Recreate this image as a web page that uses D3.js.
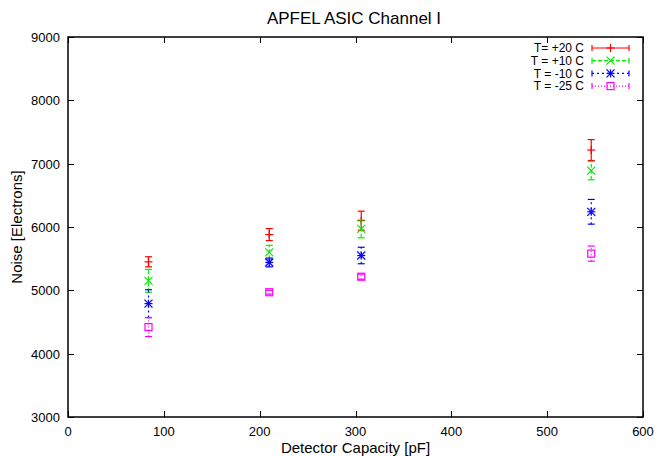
<!DOCTYPE html>
<html lang="en">
<head>
<meta charset="utf-8">
<title>APFEL ASIC Channel I</title>
<script src="https://d3js.org/d3.v7.min.js"></script>
<style>
  body{margin:0;background:#fff;font-family:"Liberation Sans",Helvetica,Arial,sans-serif;}
  svg text{fill:#000;}
</style>
</head>
<body>
<div id="chart"></div>
<script>
// data
var capacity = [84, 210, 306, 546]
var labels = ["T= +20 C", "T = +10 C", "T = -10 C", "T = -25 C"]
var noise20 = [5450, 5880, 6100, 7215]
var err20   = [80, 95, 150, 165]
var noise10 = [5150, 5600, 5970, 6890]
var err10   = [180, 110, 140, 145]
var noiseM10 = [4790, 5440, 5550, 6240]
var errM10   = [220, 70, 130, 195]
var noiseM25 = [4420, 4970, 5215, 5580]
var errM25   = [150, 30, 40, 120]
var xTicks = [0, 100, 200, 300, 400, 500, 600]
var yTicks = [3000, 4000, 5000, 6000, 7000, 8000, 9000]

var W = 657, H = 456
var m = {left: 68, right: 14, top: 37, bottom: 39}

var series = [
  {name: labels[0], y: noise20, e: err20, color: "#ff0000", dash: null, sym: "plus"},
  {name: labels[1], y: noise10, e: err10, color: "#00ee00", dash: "4,2", sym: "cross"},
  {name: labels[2], y: noiseM10, e: errM10, color: "#0000ff", dash: "2,3", sym: "star"},
  {name: labels[3], y: noiseM25, e: errM25, color: "#ff00ff", dash: "1,2", sym: "box"}
]

var svg = d3.select("#chart").append("svg").attr("width", W).attr("height", H)

var x = d3.scaleLinear().domain([0, 600]).range([m.left, W - m.right])
var y = d3.scaleLinear().domain([3000, 9000]).range([H - m.bottom, m.top])

// ticks, inward and mirrored like gnuplot
var tk = 6
var g = svg.append("g").attr("stroke", "#000").attr("stroke-width", 1)
xTicks.forEach(function(t){
  var px = Math.round(x(t)) + 0.5
  g.append("line").attr("x1", px).attr("x2", px).attr("y1", y(3000)).attr("y2", y(3000) - tk)
  g.append("line").attr("x1", px).attr("x2", px).attr("y1", y(9000)).attr("y2", y(9000) + tk)
})
yTicks.forEach(function(t){
  var py = Math.round(y(t)) + 0.5
  g.append("line").attr("x1", x(0)).attr("x2", x(0) + tk).attr("y1", py).attr("y2", py)
  g.append("line").attr("x1", x(600)).attr("x2", x(600) - tk).attr("y1", py).attr("y2", py)
})
svg.append("rect")
  .attr("x", x(0)).attr("y", y(9000))
  .attr("width", x(600) - x(0)).attr("height", y(3000) - y(9000))
  .attr("fill", "none").attr("stroke", "#000").attr("stroke-width", 1.5)

svg.selectAll(".xl").data(xTicks).enter().append("text")
  .attr("x", function(d){ return x(d) }).attr("y", y(3000) + 18.5)
  .attr("text-anchor", "middle").attr("font-size", 13).text(function(d){ return d })
svg.selectAll(".yl").data(yTicks).enter().append("text")
  .attr("x", x(0) - 8).attr("y", function(d){ return y(d) + 5 })
  .attr("text-anchor", "end").attr("font-size", 13).text(function(d){ return d })

svg.append("text").attr("x", 354).attr("y", 24).attr("text-anchor", "middle")
  .attr("font-size", 17).text("APFEL ASIC Channel I")
svg.append("text").attr("x", (x(0) + x(600)) / 2).attr("y", 452.5).attr("text-anchor", "middle")
  .attr("font-size", 15).text("Detector Capacity [pF]")
svg.append("text").attr("transform", "translate(22," + ((y(3000) + y(9000)) / 2) + ") rotate(-90)")
  .attr("text-anchor", "middle").attr("font-size", 15).text("Noise [Electrons]")

function symbol(sel, type, cx, cy, color){
  var s = 4
  var gg = sel.append("g").attr("stroke", color).attr("stroke-width", 1.2).attr("fill", "none")
  if (type == "plus" || type == "star"){
    gg.append("line").attr("x1", cx - s).attr("x2", cx + s).attr("y1", cy).attr("y2", cy)
    gg.append("line").attr("x1", cx).attr("x2", cx).attr("y1", cy - s).attr("y2", cy + s)
  }
  if (type == "cross" || type == "star"){
    gg.append("line").attr("x1", cx - s).attr("x2", cx + s).attr("y1", cy - s).attr("y2", cy + s)
    gg.append("line").attr("x1", cx - s).attr("x2", cx + s).attr("y1", cy + s).attr("y2", cy - s)
  }
  if (type == "box"){
    gg.append("rect").attr("x", cx - s + 0.5).attr("y", cy - s + 0.5).attr("width", 2 * s - 1).attr("height", 2 * s - 1)
  }
}

var cap = 3.5
series.forEach(function(s){
  var sg = svg.append("g")
  capacity.forEach(function(c, i){
    var px = x(c), lo = y(s.y[i] - s.e[i]), hi = y(s.y[i] + s.e[i])
    var eg = sg.append("g").attr("stroke", s.color).attr("stroke-width", 1.2)
    eg.append("line").attr("x1", px).attr("x2", px).attr("y1", lo).attr("y2", hi).attr("stroke-dasharray", s.dash)
    eg.append("line").attr("x1", px - cap).attr("x2", px + cap).attr("y1", lo).attr("y2", lo)
    eg.append("line").attr("x1", px - cap).attr("x2", px + cap).attr("y1", hi).attr("y2", hi)
    symbol(sg, s.sym, px, y(s.y[i]), s.color)
  })
})

// legend
series.forEach(function(s, i){
  var ly = 48 + i * 12.7
  svg.append("text").attr("x", 584).attr("y", ly + 4.3).attr("text-anchor", "end")
    .attr("font-size", 12).text(s.name)
  var lg = svg.append("g").attr("stroke", s.color).attr("stroke-width", 1.2)
  lg.append("line").attr("x1", 592).attr("x2", 629).attr("y1", ly).attr("y2", ly).attr("stroke-dasharray", s.dash)
  lg.append("line").attr("x1", 592).attr("x2", 592).attr("y1", ly - 3).attr("y2", ly + 3)
  lg.append("line").attr("x1", 629).attr("x2", 629).attr("y1", ly - 3).attr("y2", ly + 3)
  symbol(svg, s.sym, 610.5, ly, s.color)
})
</script>
</body>
</html>
